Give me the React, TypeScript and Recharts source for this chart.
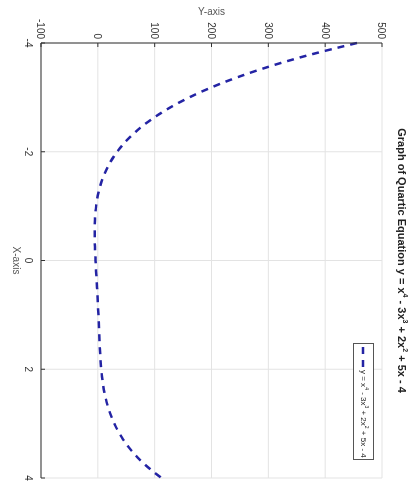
import React from 'react';
import { LineChart, Line, XAxis, YAxis, CartesianGrid, Legend } from 'recharts';

const xValues = [-4, -3.75, -3.5, -3.25, -3, -2.75, -2.5, -2.25, -2, -1.75, -1.5, -1.25, -1, -0.75, -0.5, -0.25, 0, 0.25, 0.5, 0.75, 1, 1.25, 1.5, 1.75, 2, 2.25, 2.5, 2.75, 3, 3.25, 3.5, 3.75, 4];
const yValues = [456, 361.3, 281.7, 215.4, 161, 117, 81.9, 54.7, 34, 18.8, 8.2, 1.2, -3, -5.0, -5.6, -5.1, -4, -2.7, -1.3, -0.1, 1, 2.0, 2.9, 4.2, 6, 8.8, 13.2, 19.7, 29, 42.0, 59.4, 82.4, 112];
const xTicks = [-4, -2, 0, 2, 4];
const yTicks = [-100, 0, 100, 200, 300, 400, 500];

const data = xValues.map((x, i) => ({ x, y: yValues[i] }));

const FONT = '"Liberation Sans", Arial, Helvetica, sans-serif';
const LINE_COLOR = '#2424a4';
const AXIS_COLOR = '#333';
const TICK = 4;

const BottomTick = (props: any) => {
  const { x, y, payload } = props;
  return (
    <g>
      <line x1={x} y1={y} x2={x} y2={y - TICK} stroke={AXIS_COLOR} strokeWidth={1} />
      <text x={x} y={y + 16} textAnchor="middle" fontSize={10} fill="#333" fontFamily={FONT}>{payload.value}</text>
    </g>
  );
};
const TopTick = (props: any) => {
  const { x, y } = props;
  return <line x1={x} y1={y} x2={x} y2={y + TICK} stroke={AXIS_COLOR} strokeWidth={1} />;
};
const LeftTick = (props: any) => {
  const { x, y, payload } = props;
  return (
    <g>
      <line x1={x} y1={y} x2={x + TICK} y2={y} stroke={AXIS_COLOR} strokeWidth={1} />
      <text x={x - 4} y={y + 3.5} textAnchor="end" fontSize={10} fill="#333" fontFamily={FONT}>{payload.value}</text>
    </g>
  );
};
const RightTick = (props: any) => {
  const { x, y } = props;
  return <line x1={x} y1={y} x2={x - TICK} y2={y} stroke={AXIS_COLOR} strokeWidth={1} />;
};

const YLabel = (props: any) => {
  const vb = props.viewBox || {};
  const cy = (vb.y || 0) + (vb.height || 0) / 2;
  return (
    <text x={15} y={cy} transform={`rotate(-90, 15, ${cy})`} textAnchor="middle" fontSize={10} fill="#555" fontFamily={FONT}>Y-axis</text>
  );
};
const XLabel = (props: any) => {
  const vb = props.viewBox || {};
  const cx = (vb.x || 0) + (vb.width || 0) / 2;
  return (
    <text x={cx} y={(vb.y || 0) + 28} textAnchor="middle" fontSize={10} fill="#555" fontFamily={FONT}>X-axis</text>
  );
};

const LegendBox = () => (
  <div style={{ width: 117, height: 21, boxSizing: 'border-box', border: '1px solid #555', background: '#fff', display: 'flex', alignItems: 'center', fontFamily: FONT, fontSize: 8, color: '#222', whiteSpace: 'nowrap' }}>
    <svg width={26} height={8} style={{ flex: 'none' }}>
      <line x1={3} y1={4} x2={23} y2={4} stroke={LINE_COLOR} strokeWidth={2.5} strokeDasharray="7 6" />
    </svg>
    <span style={{ lineHeight: '8px' }}>
      y = x<sup style={{ fontSize: 5, lineHeight: 0 }}>4</sup> - 3x<sup style={{ fontSize: 5, lineHeight: 0 }}>3</sup> + 2x<sup style={{ fontSize: 5, lineHeight: 0 }}>2</sup> + 5x - 4
    </span>
  </div>
);

export default function App() {
  return (
    <div style={{ position: 'fixed', left: 0, top: 0, width: 483, height: 412, transformOrigin: '0 0', transform: 'translate(412px, 0) rotate(90deg)', background: '#fff' }}>
      <div style={{ position: 'absolute', left: 43, top: 4, width: 435, textAlign: 'center', fontFamily: FONT, fontSize: 11, fontWeight: 'bold', lineHeight: '13px', color: '#222', whiteSpace: 'nowrap', zIndex: 2 }}>
        Graph of Quartic Equation y = x<sup style={{ fontSize: 7, lineHeight: 0 }}>4</sup> - 3x<sup style={{ fontSize: 7, lineHeight: 0 }}>3</sup> + 2x<sup style={{ fontSize: 7, lineHeight: 0 }}>2</sup> + 5x - 4
      </div>
      <LineChart width={483} height={412} data={data} margin={{ top: 30, right: 5, bottom: 0, left: 0 }}>
        <CartesianGrid stroke="#e3e3e3" strokeWidth={1} />
        <XAxis dataKey="x" type="number" domain={[-4, 4]} ticks={xTicks} height={41} tickSize={0} tickMargin={0} tickLine={false} tick={<BottomTick />} axisLine={{ stroke: AXIS_COLOR }} label={<XLabel />} interval={0} />
        <XAxis xAxisId="top" orientation="top" dataKey="x" type="number" domain={[-4, 4]} ticks={xTicks} height={0} tickSize={0} tickMargin={0} tickLine={false} tick={<TopTick />} axisLine={{ stroke: AXIS_COLOR }} interval={0} />
        <YAxis type="number" domain={[-100, 500]} ticks={yTicks} width={43} tickSize={0} tickMargin={0} tickLine={false} tick={<LeftTick />} axisLine={{ stroke: AXIS_COLOR }} label={<YLabel />} interval={0} />
        <YAxis yAxisId="right" orientation="right" type="number" domain={[-100, 500]} ticks={yTicks} width={0} tickSize={0} tickMargin={0} tickLine={false} tick={<RightTick />} axisLine={{ stroke: AXIS_COLOR }} interval={0} />
        <Legend layout="horizontal" verticalAlign="middle" align="center" content={<LegendBox />} wrapperStyle={{ top: 38, left: 343, width: 117, height: 21 }} />
        <Line xAxisId="top" yAxisId="right" dataKey="y" stroke="none" dot={false} activeDot={false} legendType="none" isAnimationActive={false} />
        <Line dataKey="y" type="monotone" stroke={LINE_COLOR} strokeWidth={2.5} strokeDasharray="7 6" dot={false} isAnimationActive={false} />
      </LineChart>
    </div>
  );
}
